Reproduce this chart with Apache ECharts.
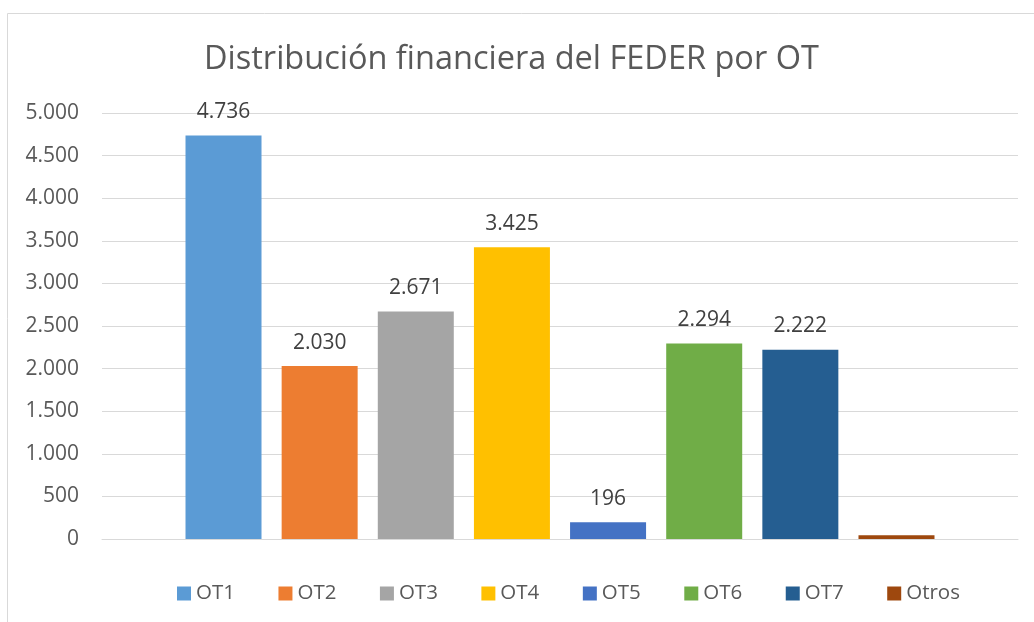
<!DOCTYPE html>
<html>
<head>
<meta charset="utf-8">
<script src="https://cdn.jsdelivr.net/npm/echarts@6/dist/echarts.min.js"></script>
<style>
  html, body { margin: 0; padding: 0; background: #fff; }
  #chart { width: 1034px; height: 622px; }
</style>
</head>
<body>
<div id="chart"></div>
<script>
// datos del gráfico
const seriesNames = ['OT1', 'OT2', 'OT3', 'OT4', 'OT5', 'OT6', 'OT7', 'Otros'];
const seriesValues = [4736, 2030, 2671, 3425, 196, 2294, 2222, 45];
const seriesColors = ['#5b9bd5', '#ed7d31', '#a5a5a5', '#ffc000', '#4472c4', '#70ad47', '#255e91', '#9e480e'];
const yTicks = [0, 500, 1000, 1500, 2000, 2500, 3000, 3500, 4000, 4500, 5000];

const font = '"Open Sans", "Noto Sans", sans-serif';

// 4736 -> "4.736"
const fmt = (v) => String(v).replace(/\B(?=(\d{3})+(?!\d))/g, '.');

let chart = echarts.init(document.getElementById('chart'));

chart.setOption({
  animation: false,
  textStyle: {fontFamily: font},
  title: {
    text: 'Distribución financiera del FEDER por OT',
    left: 199,
    top: 38,
    textStyle: {fontSize: 32.5, fontWeight: 'normal', color: '#595959', fontFamily: font}
  },
  graphic: [{
    type: 'rect',
    shape: {x: 7.5, y: 13.5, width: 1100, height: 700},
    style: {fill: 'none', stroke: '#d9d9d9', lineWidth: 1},
    silent: true,
    z: -1
  }],
  legend: {
    top: 578,
    left: 172,
    itemWidth: 14,
    itemHeight: 14,
    itemGap: 43.5,
    icon: 'rect',
    data: seriesNames,
    textStyle: {fontSize: 20.5, color: '#595959', fontFamily: font}
  },
  grid: {left: 102, right: 16, top: 113, bottom: 83, containLabel: false},
  xAxis: {
    type: 'category',
    data: [''],
    axisLine: {show: true, lineStyle: {color: '#d9d9d9', width: 1}},
    axisTick: {show: false},
    axisLabel: {show: false}
  },
  yAxis: {
    type: 'value',
    min: yTicks[0],
    max: yTicks[yTicks.length - 1],
    interval: 500,
    axisLine: {show: false},
    axisTick: {show: false},
    axisLabel: {
      fontSize: 21,
      color: '#595959',
      margin: 23,
      fontFamily: font,
      formatter: fmt
    },
    splitLine: {lineStyle: {color: '#d9d9d9', width: 1}}
  },
  series: seriesNames.map((name, i) => ({
    name: name,
    type: 'bar',
    data: [seriesValues[i]],
    barWidth: 76,
    barGap: '26.5%',
    itemStyle: {color: seriesColors[i]},
    label: {
      show: name !== 'Otros',
      position: 'top',
      distance: 13,
      fontSize: 21,
      color: '#404040',
      fontFamily: font,
      formatter: (p) => fmt(p.value)
    }
  }))
});
</script>
</body>
</html>
